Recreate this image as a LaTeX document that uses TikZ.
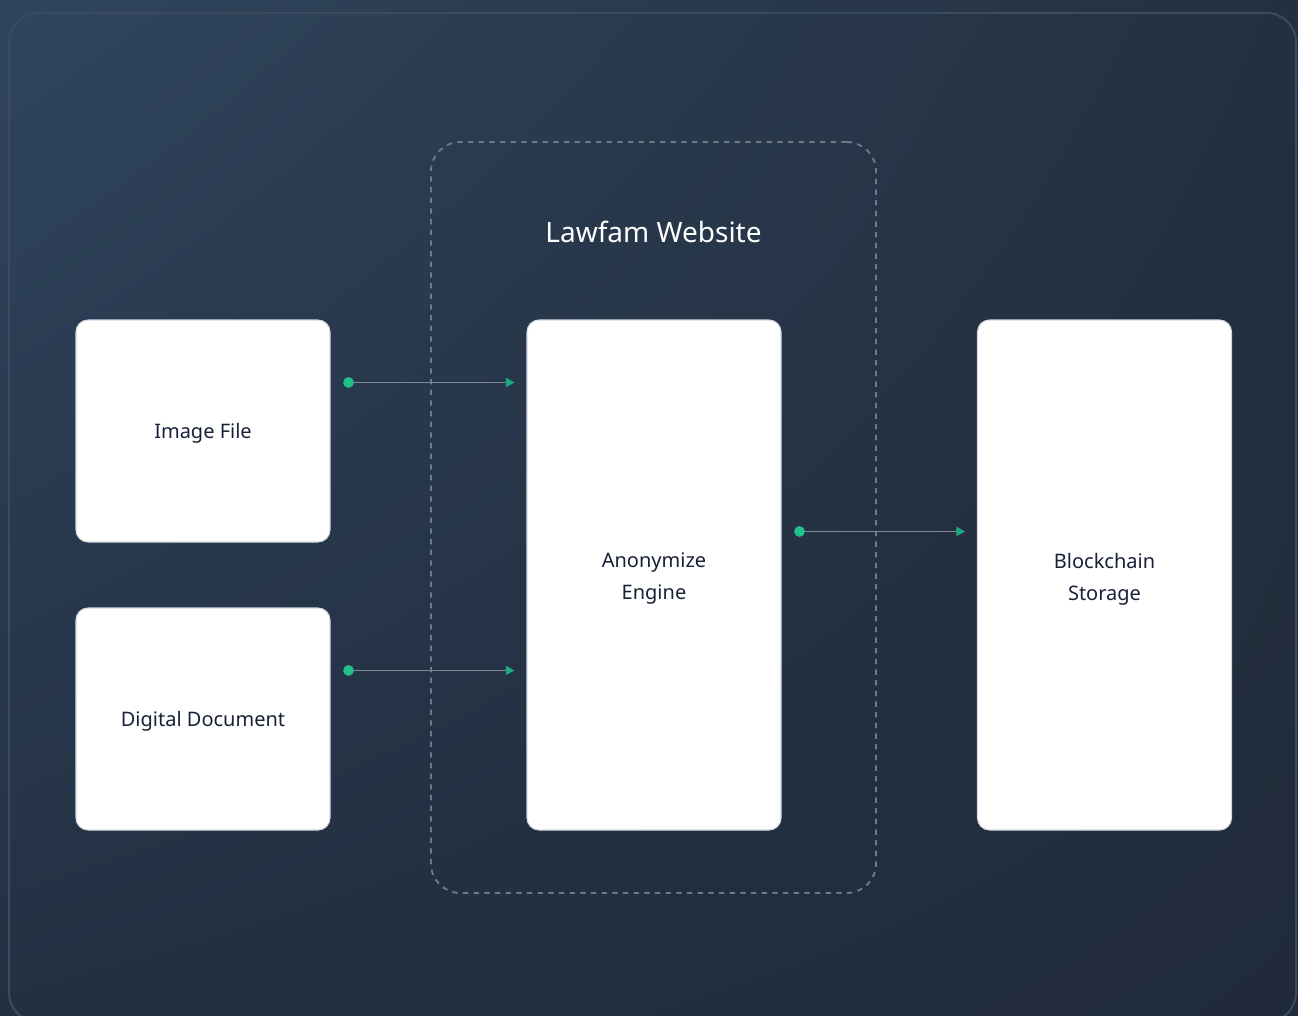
\documentclass[tikz,border=0pt]{standalone}
\usepackage{fontspec}
\setmainfont{Noto Sans}
\usetikzlibrary{arrows.meta,calc,shadings}
\definecolor{bgA}{HTML}{2F455E}
\definecolor{bgB}{HTML}{24303F}
\definecolor{bgC}{HTML}{233042}
\definecolor{bgD}{HTML}{202A3A}
\definecolor{frameC}{HTML}{3A4A5F}
\definecolor{groupC}{HTML}{6E7A8A}
\definecolor{boxLine}{HTML}{D3D8E0}
\definecolor{txtC}{HTML}{182136}
\definecolor{lineC}{HTML}{7C8795}
\definecolor{dotC}{HTML}{22C08A}
\definecolor{tipC}{HTML}{1DAA80}
\tikzset{
  card/.style={draw=boxLine, line width=0.8pt, fill=white, rounded corners=9pt, inner sep=0pt},
  cardtxt/.style={text=txtC, font=\fontsize{15}{24}\selectfont, align=center, inner sep=0pt},
  flow/.style={draw=lineC, line width=0.75pt,
    {Circle[length=8pt, width=8pt, color=dotC]}-{Triangle[length=6.5pt, width=7pt, color=tipC]},
    shorten <=9.5pt, shorten >=9pt},
  grp/.style={draw=groupC, line width=1.4pt, dash pattern=on 4pt off 4pt, rounded corners=22pt}
}
\begin{document}
\begin{tikzpicture}[x=0.75pt, y=-0.75pt]
\useasboundingbox (0,0) rectangle (1298,1016);
\shade[upper left=bgA, upper right=bgB, lower left=bgC, lower right=bgD] (0,0) rectangle (1298,1016);
\draw[frameC, line width=1.5pt, rounded corners=22pt] (9,13) rectangle (1296,1022);
% group
\node[grp, minimum width=445*0.75pt, minimum height=751*0.75pt, inner sep=0pt] (web) at (653.5,517.5) {};
\node[text=white, font=\fontsize{21}{24}\selectfont] (webl) at (653.5,232) {Lawfam Website};
% cards
\node[card, minimum width=254*0.75pt, minimum height=222*0.75pt,
  label={[cardtxt, yshift=-1.5pt]center:Image File}] (img) at (203,431) {};
\node[card, minimum width=254*0.75pt, minimum height=222*0.75pt,
  label={[cardtxt, yshift=-1.5pt]center:Digital Document}] (doc) at (203,719) {};
\node[card, minimum width=254*0.75pt, minimum height=510*0.75pt,
  label={[cardtxt, yshift=-3pt]center:Anonymize\\Engine}] (eng) at (654,575) {};
\node[card, minimum width=254*0.75pt, minimum height=510*0.75pt,
  label={[cardtxt, yshift=-3pt]center:Blockchain\\Storage}] (bc) at (1104.5,575) {};
% connectors
\coordinate (s1) at ($(img.north east)+(0,63)$);
\coordinate (s2) at ($(doc.north east)+(0,63)$);
\coordinate (s3) at ($(eng.north east)+(0,212)$);
\draw[flow] (s1) -- (eng.west |- s1);
\draw[flow] (s2) -- (eng.west |- s2);
\draw[flow] (s3) -- (bc.west |- s3);
\end{tikzpicture}
\end{document}
